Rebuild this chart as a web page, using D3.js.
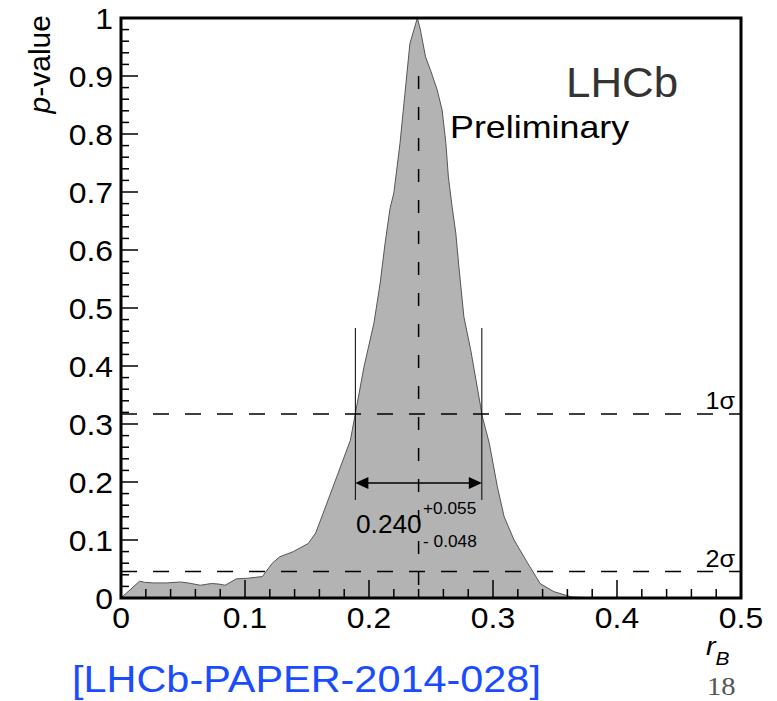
<!DOCTYPE html>
<html><head><meta charset="utf-8">
<script src="https://cdn.jsdelivr.net/npm/d3@7"></script>
<style>body{margin:0;background:#fff}svg{display:block}</style>
</head><body>
<script>
// ---- data ----
const curveX = [0,0.015,0.019,0.026,0.037,0.048,0.054,0.064,0.073,0.079,0.084,0.093,0.102,0.114,0.122,0.128,0.139,0.151,0.157,0.163,0.174,0.185,0.189,0.196,0.204,0.209,0.213,0.217,0.220,0.225,0.229,0.233,0.239,0.2415,0.2456,0.2496,0.255,0.259,0.262,0.264,0.267,0.270,0.2725,0.2765,0.282,0.290,0.291,0.297,0.3035,0.309,0.317,0.328,0.338,0.349,0.363,0.38,0.5];
const curveP = [0,0.029,0.027,0.026,0.026,0.0276,0.026,0.022,0.025,0.024,0.022,0.033,0.034,0.037,0.060,0.071,0.080,0.094,0.112,0.146,0.209,0.272,0.318,0.399,0.474,0.543,0.612,0.672,0.698,0.784,0.870,0.956,1.0,0.979,0.933,0.910,0.876,0.841,0.784,0.726,0.675,0.629,0.571,0.485,0.428,0.330,0.316,0.267,0.192,0.140,0.100,0.060,0.025,0.011,0.002,0,0];
const xTicks = [0,0.1,0.2,0.3,0.4,0.5];
const yTicks = [0,0.1,0.2,0.3,0.4,0.5,0.6,0.7,0.8,0.9,1];
const sigmaLevels = [0.3173,0.0455];
const sigmaLabels = ["1σ","2σ"];
const bestFit = 0.240;
const intervalLo = 0.189, intervalHi = 0.291;
const resultText = "0.240", errPlus = "+0.055", errMinus = "- 0.048";

const W = 777, H = 701;
const L = 121, R = 741, T = 18, B = 598;
const svg = d3.select("body").append("svg").attr("width",W).attr("height",H)
  .style("font-family","'Liberation Sans', Arial, sans-serif");
const x = d3.scaleLinear().domain([0,0.5]).range([L,R]);
const y = d3.scaleLinear().domain([0,1]).range([B,T]);

function txt(px,py,s,size,opts={}){
  const sx = opts.sx||1.1;
  const t = svg.append("text").attr("transform",`translate(${px},${py}) scale(${sx},1)`)
    .attr("font-size",size).attr("fill",opts.fill||"#000")
    .attr("text-anchor",opts.anchor||"start").text(s);
  if(opts.italic) t.attr("font-style","italic");
  if(opts.family) t.attr("font-family",opts.family);
  return t;
}

// filled curve
const pts = curveX.map((v,i)=>[v,curveP[i]]);
const area = d3.area().x(d=>x(d[0])).y0(y(0)).y1(d=>y(d[1]));
svg.append("path").datum(pts).attr("d",area).attr("fill","#b3b3b3");
svg.append("path").datum(pts).attr("d",d3.line().x(d=>x(d[0])).y(d=>y(d[1])))
  .attr("fill","none").attr("stroke","#555").attr("stroke-width",1);

// sigma lines
sigmaLevels.forEach((s,i)=>{
  svg.append("line").attr("x1",L).attr("x2",R).attr("y1",y(s)).attr("y2",y(s))
    .attr("stroke","#000").attr("stroke-width",1.5).attr("stroke-dasharray","16,16");
  txt(735,y(s)-5,sigmaLabels[i],24,{anchor:"end",sx:1.05});
});
// best fit dashed
svg.append("line").attr("x1",x(bestFit)).attr("x2",x(bestFit)).attr("y1",y(0.9)).attr("y2",y(0))
  .attr("stroke","#000").attr("stroke-width",1.5).attr("stroke-dasharray","13,18");

// interval
[intervalLo,intervalHi].forEach(v=>{
  svg.append("line").attr("x1",x(v)).attr("x2",x(v)).attr("y1",328).attr("y2",500)
    .attr("stroke","#000").attr("stroke-width",1);
});
const ay = 483;
svg.append("line").attr("x1",x(intervalLo)+10).attr("x2",x(intervalHi)-10).attr("y1",ay).attr("y2",ay)
  .attr("stroke","#000").attr("stroke-width",1.5);
svg.append("path").attr("d",`M${x(intervalLo)},${ay} l13,-6 l0,12 z`).attr("fill","#000");
svg.append("path").attr("d",`M${x(intervalHi)},${ay} l-13,-6 l0,12 z`).attr("fill","#000");
txt(356,533,resultText,25,{sx:1.05});
txt(423,514,errPlus,16,{sx:1.08});
txt(423,547,errMinus,16,{sx:1.08});

// axes ticks
const minorX = d3.range(0,0.5001,0.02);
minorX.forEach(v=>{
  const major = Math.abs(v*10-Math.round(v*10))<1e-6;
  svg.append("line").attr("x1",x(v)).attr("x2",x(v)).attr("y1",B).attr("y2",B-(major?18:9))
    .attr("stroke","#000").attr("stroke-width",1.5);
});
const minorY = d3.range(0,1.0001,0.02);
minorY.forEach(v=>{
  const major = Math.abs(v*10-Math.round(v*10))<1e-6;
  svg.append("line").attr("x1",L).attr("x2",L+(major?17:8)).attr("y1",y(v)).attr("y2",y(v))
    .attr("stroke","#000").attr("stroke-width",1.5);
});
// frame
svg.append("rect").attr("x",L).attr("y",T).attr("width",R-L).attr("height",B-T)
  .attr("fill","none").attr("stroke","#000").attr("stroke-width",3);

// tick labels
xTicks.forEach(v=>txt(x(v),628,d3.format("")(v),29,{anchor:"middle"}));
yTicks.forEach(v=>txt(113,y(v)+11,d3.format("")(v),29,{anchor:"end"}));

// axis titles
const yl = svg.append("text").attr("transform","translate(50,15) rotate(-90)")
  .attr("font-size",30).attr("text-anchor","end");
yl.append("tspan").attr("font-style","italic").text("p");
yl.append("tspan").text("-value");
const xl = svg.append("text").attr("transform","translate(706,655) scale(1.1,1)").attr("font-size",26).attr("font-style","italic");
xl.append("tspan").text("r");
xl.append("tspan").attr("font-size",19).attr("dy",10).text("B");

// labels
txt(566,97,"LHCb",43,{fill:"#333",sx:1.02});
txt(450,138,"Preliminary",32,{sx:1.12});
txt(72,692,"[LHCb-PAPER-2014-028]",37,{fill:"#1a4cff",sx:1.12});
txt(707,695,"18",26,{fill:"#555",sx:1.1,family:"'Liberation Serif', serif"});
</script>
</body></html>
